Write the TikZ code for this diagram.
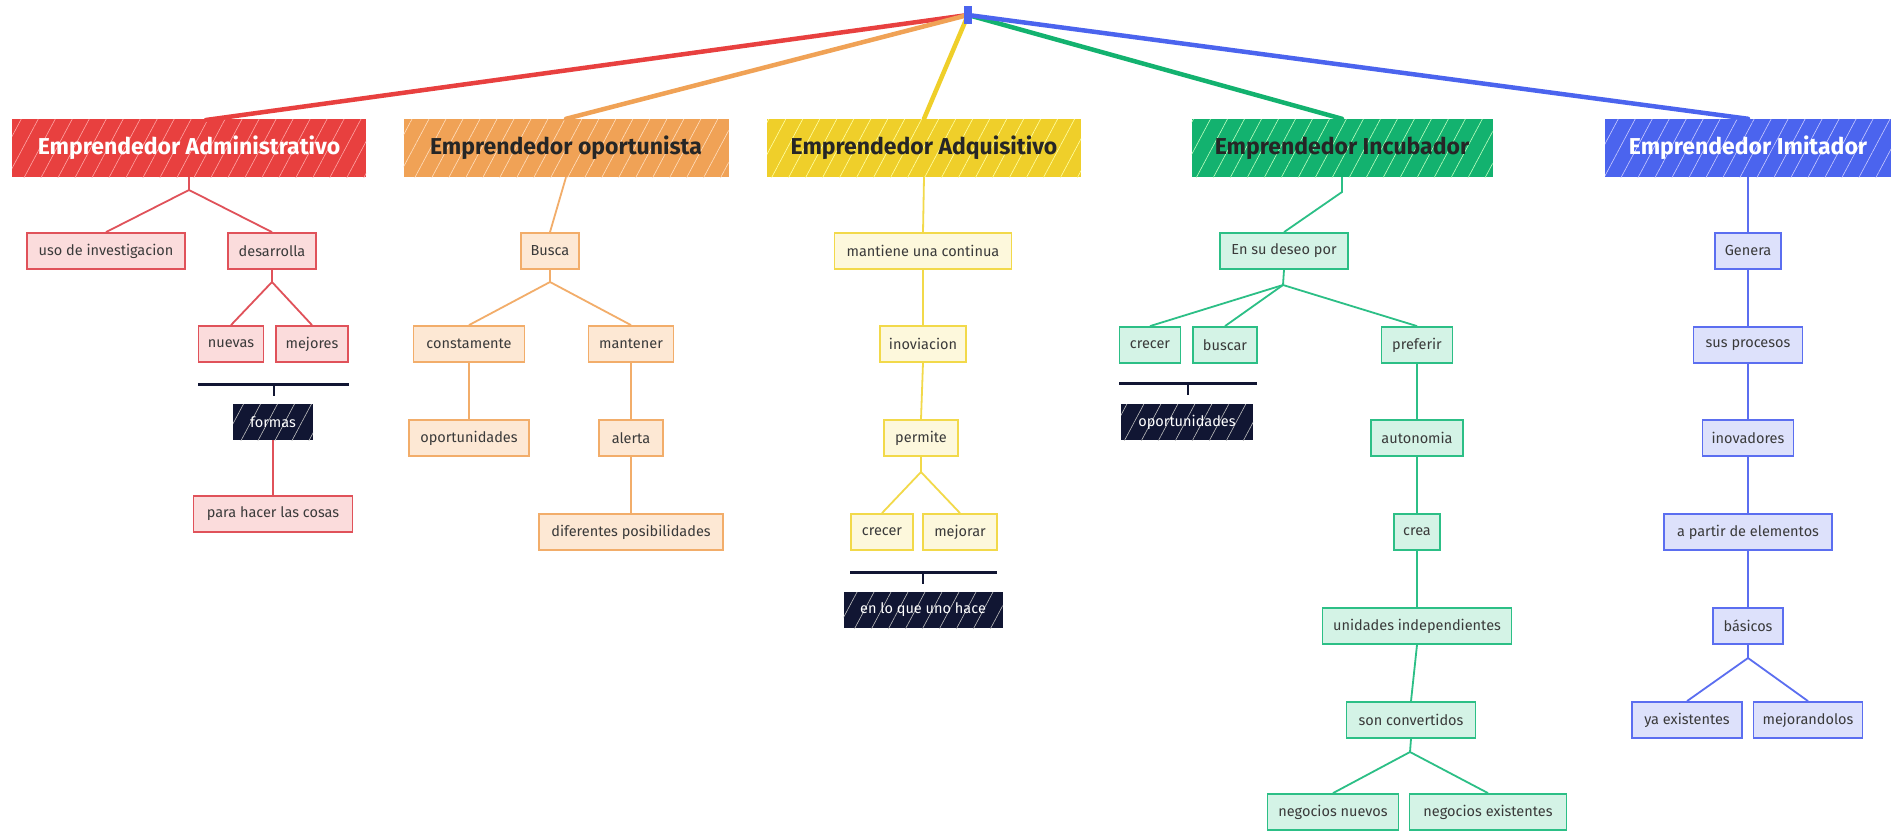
\documentclass[tikz,border=0pt]{standalone}
\usepackage{fontspec}
\setmainfont{Fira Sans}
\usetikzlibrary{patterns.meta}
\definecolor{cred}{HTML}{E8403F}
\definecolor{cora}{HTML}{F0A256}
\definecolor{cyel}{HTML}{EFCF2A}
\definecolor{cgrn}{HTML}{13B26F}
\definecolor{cblu}{HTML}{4B64EE}
\definecolor{rstr}{HTML}{E0525A}\definecolor{rfil}{HTML}{FBDCDC}
\definecolor{ostr}{HTML}{F2AD6A}\definecolor{ofil}{HTML}{FDE8D4}
\definecolor{ystr}{HTML}{F2D94A}\definecolor{yfil}{HTML}{FDF8DC}
\definecolor{gstr}{HTML}{2CBF86}\definecolor{gfil}{HTML}{D4F3E6}
\definecolor{bstr}{HTML}{5B6EF0}\definecolor{bfil}{HTML}{DDE1FB}
\definecolor{navy}{HTML}{111633}
\definecolor{txt}{HTML}{3A3A3A}
\tikzset{
  mainbox/.style={rectangle, minimum height=58pt, inner sep=0pt,
    font=\fontsize{23}{27}\selectfont\bfseries},
  hatch/.style={postaction={pattern={Lines[angle=62,distance=15pt,line width=0.6pt]}, pattern color=#1}},
  subbox/.style={rectangle, draw, line width=1.8pt, minimum height=36pt, inner sep=0pt,
    font=\fontsize{14.5}{17}\selectfont, text=txt},
  rsub/.style={subbox, draw=rstr, fill=rfil},
  osub/.style={subbox, draw=ostr, fill=ofil},
  ysub/.style={subbox, draw=ystr, fill=yfil},
  gsub/.style={subbox, draw=gstr, fill=gfil},
  bsub/.style={subbox, draw=bstr, fill=bfil},
  darkbox/.style={rectangle, fill=navy, text=white, minimum height=36pt, inner sep=0pt,
    font=\fontsize{14.5}{17}\selectfont, hatch=gray!50},
  rline/.style={draw=rstr, line width=1.8pt},
  oline/.style={draw=ostr, line width=1.8pt},
  yline/.style={draw=ystr, line width=1.8pt},
  gline/.style={draw=gstr, line width=1.8pt},
  bline/.style={draw=bstr, line width=1.8pt},
  rootline/.style={line width=4.5pt, line cap=round},
  sumbar/.style={draw=navy, line width=3pt},
  sumtick/.style={draw=navy, line width=2pt},
}
\begin{document}
\begin{tikzpicture}[x=1pt,y=-1pt]
\fill[white] (0,0) rectangle (1898,830);
\useasboundingbox (0,0) rectangle (1898,830);

% main nodes
\node[mainbox, fill=cred, text=white, minimum width=354pt, hatch=red!35!white] (adm) at (189,148) {Emprendedor Administrativo};
\node[mainbox, fill=cora, text=black!85, minimum width=325pt, hatch=orange!25!white] (opo) at (566,148) {Emprendedor oportunista};
\node[mainbox, fill=cyel, text=black!85, minimum width=314pt, hatch=yellow!35!white] (adq) at (924,148) {Emprendedor Adquisitivo};
\node[mainbox, fill=cgrn, text=black!85, minimum width=301pt, hatch=green!25!white] (inc) at (1342,148) {Emprendedor Incubador};
\node[mainbox, fill=cblu, text=white, minimum width=286pt, hatch=blue!20!white] (imi) at (1748,148) {Emprendedor Imitador};

% root
\node[rectangle, minimum width=7pt, minimum height=17pt, inner sep=0pt] (root) at (968,15) {};
\coordinate (aadm) at (206,120);
\draw[rootline, cred] (root.center) -- (aadm);
\draw[rootline, cora] (root.center) -- (opo.north);
\draw[rootline, cyel] (root.center) -- (adq.north);
\draw[rootline, cgrn] (root.center) -- (inc.north);
\draw[rootline, cblu] (root.center) -- (imi.north);
\fill[cblu] (root.north west) rectangle (root.south east);

% red branch
\node[rsub, minimum width=158pt] (uso) at (106,251) {uso de investigacion};
\node[rsub, minimum width=88pt] (des) at (272,251) {desarrolla};
\node[rsub, minimum width=65pt] (nue) at (231,344) {nuevas};
\node[rsub, minimum width=72pt] (mej) at (312,344) {mejores};
\node[darkbox, minimum width=80pt] (formas) at (273,422) {formas};
\node[rsub, minimum width=159pt] (para) at (273,514) {para hacer las cosas};
\coordinate (b1) at (189,190);
\coordinate (b2) at (272,282);
\draw[rline] (adm.south) -- (b1) -- (uso.north);
\draw[rline] (b1) -- (des.north);
\draw[rline] (des.south) -- (b2) -- (nue.north);
\draw[rline] (b2) -- (mej.north);
\coordinate (s1l) at (198,384);
\coordinate (s1r) at (349,384);
\coordinate (s1c) at (274,384);
\coordinate (s1t) at (274,396);
\draw[sumbar] (s1l) -- (s1r);
\draw[sumtick] (s1c) -- (s1t);
\draw[rline] (formas.south) -- (para.north);

% orange branch
\node[osub, minimum width=58pt] (busca) at (550,251) {Busca};
\node[osub, minimum width=111pt] (cons) at (469,344) {constamente};
\node[osub, minimum width=85pt] (mant) at (631,344) {mantener};
\node[osub, minimum width=120pt] (oport) at (469,438) {oportunidades};
\node[osub, minimum width=64pt] (alerta) at (631,438) {alerta};
\node[osub, minimum width=184pt] (difer) at (631,532) {diferentes posibilidades};
\coordinate (b3) at (550,282);
\draw[oline] (opo.south) -- (busca.north);
\draw[oline] (busca.south) -- (b3) -- (cons.north);
\draw[oline] (b3) -- (mant.north);
\draw[oline] (cons.south) -- (oport.north);
\draw[oline] (mant.south) -- (alerta.north);
\draw[oline] (alerta.south) -- (difer.north);

% yellow branch
\node[ysub, minimum width=177pt] (mantiene) at (923,251) {mantiene una continua};
\node[ysub, minimum width=86pt] (inov) at (923,344) {inoviacion};
\node[ysub, minimum width=74pt] (perm) at (921,438) {permite};
\node[ysub, minimum width=62pt] (crec1) at (882,532) {crecer};
\node[ysub, minimum width=74pt] (mejo) at (960,532) {mejorar};
\node[darkbox, minimum width=159pt] (enlo) at (923,610) {en lo que uno hace};
\coordinate (b4) at (921,472);
\draw[yline] (adq.south) -- (mantiene.north);
\draw[yline] (mantiene.south) -- (inov.north);
\draw[yline] (inov.south) -- (perm.north);
\draw[yline] (perm.south) -- (b4) -- (crec1.north);
\draw[yline] (b4) -- (mejo.north);
\coordinate (s2l) at (850,572);
\coordinate (s2r) at (997,572);
\coordinate (s2c) at (923,572);
\coordinate (s2t) at (923,584);
\draw[sumbar] (s2l) -- (s2r);
\draw[sumtick] (s2c) -- (s2t);

% green branch
\node[gsub, minimum width=128pt] (deseo) at (1284,251) {En su deseo por};
\node[gsub, minimum width=61pt] (crec2) at (1150,345) {crecer};
\node[gsub, minimum width=64pt] (busc) at (1225,345) {buscar};
\node[gsub, minimum width=71pt] (pref) at (1417,345) {preferir};
\node[darkbox, minimum width=132pt] (oport2) at (1187,422) {oportunidades};
\node[gsub, minimum width=92pt] (auto) at (1417,438) {autonomia};
\node[gsub, minimum width=46pt] (crea) at (1417,532) {crea};
\node[gsub, minimum width=189pt] (unid) at (1417,626) {unidades independientes};
\node[gsub, minimum width=129pt] (son) at (1411,720) {son convertidos};
\node[gsub, minimum width=131pt] (negn) at (1333,812) {negocios nuevos};
\node[gsub, minimum width=157pt] (nege) at (1488,812) {negocios existentes};
\coordinate (b5) at (1342,192);
\coordinate (b6) at (1283,285);
\coordinate (b7) at (1410,752);
\draw[gline] (inc.south) -- (b5) -- (deseo.north);
\draw[gline] (deseo.south) -- (b6) -- (crec2.north);
\draw[gline] (b6) -- (busc.north);
\draw[gline] (b6) -- (pref.north);
\draw[gline] (pref.south) -- (auto.north);
\draw[gline] (auto.south) -- (crea.north);
\draw[gline] (crea.south) -- (unid.north);
\draw[gline] (unid.south) -- (son.north);
\draw[gline] (son.south) -- (b7) -- (negn.north);
\draw[gline] (b7) -- (nege.north);
\coordinate (s3l) at (1119,383);
\coordinate (s3r) at (1257,383);
\coordinate (s3c) at (1188,383);
\coordinate (s3t) at (1188,395);
\draw[sumbar] (s3l) -- (s3r);
\draw[sumtick] (s3c) -- (s3t);

% blue branch
\node[bsub, minimum width=66pt] (gen) at (1748,251) {Genera};
\node[bsub, minimum width=109pt] (sus) at (1748,345) {sus procesos};
\node[bsub, minimum width=91pt] (inovad) at (1748,438) {inovadores};
\node[bsub, minimum width=168pt] (apar) at (1748,532) {a partir de elementos};
\node[bsub, minimum width=70pt] (bas) at (1748,626) {básicos};
\node[bsub, minimum width=110pt] (ya) at (1687,720) {ya existentes};
\node[bsub, minimum width=109pt] (mejor) at (1808,720) {mejorandolos};
\coordinate (b8) at (1748,658);
\draw[bline] (imi.south) -- (gen.north);
\draw[bline] (gen.south) -- (sus.north);
\draw[bline] (sus.south) -- (inovad.north);
\draw[bline] (inovad.south) -- (apar.north);
\draw[bline] (apar.south) -- (bas.north);
\draw[bline] (bas.south) -- (b8) -- (ya.north);
\draw[bline] (b8) -- (mejor.north);
\end{tikzpicture}
\end{document}
